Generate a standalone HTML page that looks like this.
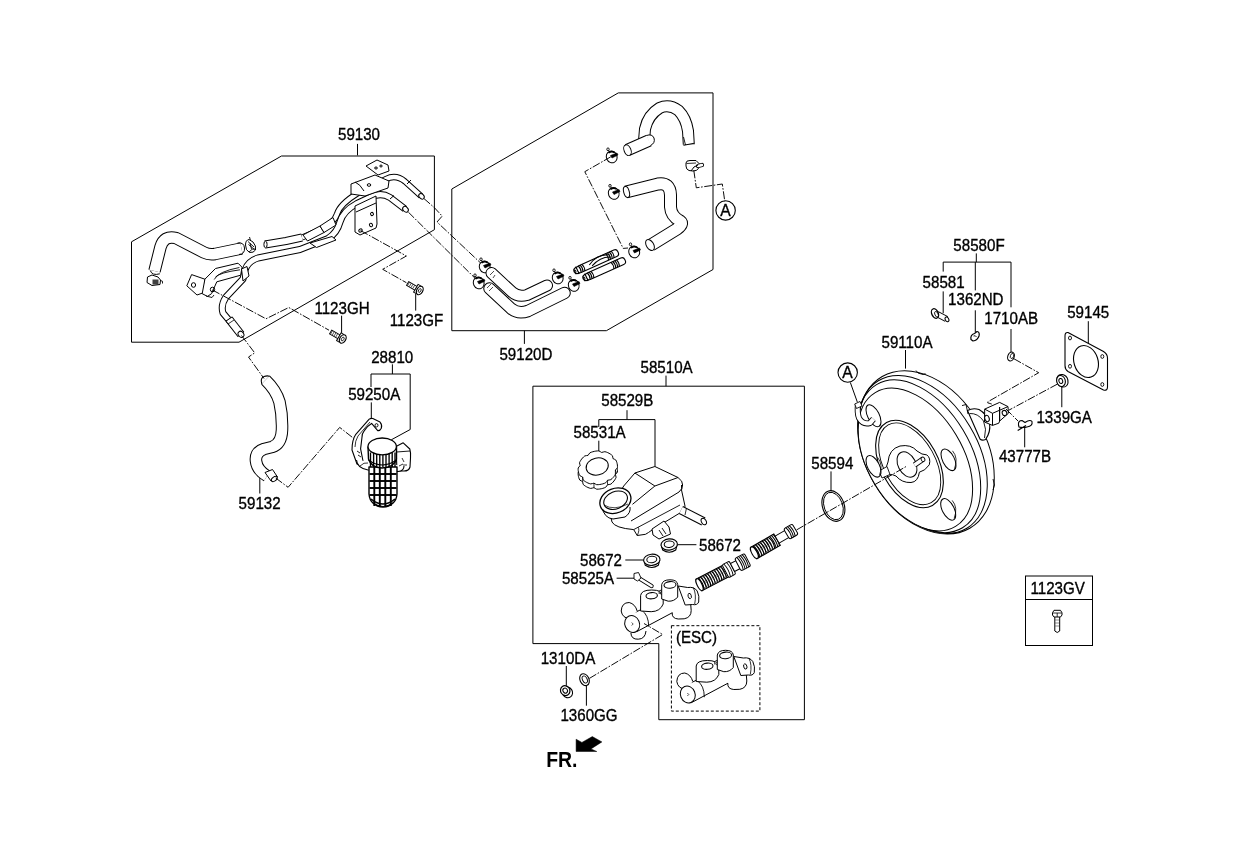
<!DOCTYPE html><html><head><meta charset="utf-8"><style>html,body{margin:0;padding:0;background:#fff;}svg{display:block;will-change:transform}</style></head><body>
<svg width="1240" height="848" viewBox="0 0 1240 848" font-family="'Liberation Sans', sans-serif" fill="#000"><g>
<rect x="0" y="0" width="1240" height="848" fill="#fff"/>
<path d="M131.5,241.8 L281.5,156 L434.4,156 L434.4,229.7 L239,342.2 L131.5,342.2Z" fill="none" stroke="#000" stroke-width="1.0" stroke-linejoin="round" />
<path d="M451.8,189 L618.3,92.9 L713,92.9 L713,269.5 L606.4,330.7 L451.8,330.7Z" fill="none" stroke="#000" stroke-width="1.0" stroke-linejoin="round" />
<path d="M532.9,386.2 L804.4,386.2 L804.4,719.7 L658.8,719.7 L658.8,643.6 L532.9,643.6Z" fill="none" stroke="#000" stroke-width="1.0" stroke-linejoin="round" />
<rect x="671.4" y="625.7" width="88.5" height="85.4" fill="none" stroke="#000" stroke-width="1" stroke-dasharray="3,2"/>
<rect x="1025.5" y="576" width="67" height="69.5" fill="none" stroke="#000" stroke-width="1"/>
<path d="M1025.5,599.5 L1092.5,599.5" fill="none" stroke="#000" stroke-width="1.0" />
<path d="M357.5,143.9 L357.5,155.4" fill="none" stroke="#000" stroke-width="1.0" />
<path d="M341.6,315.7 L341.6,333.3" fill="none" stroke="#000" stroke-width="1.0" />
<path d="M415.7,294 L415.7,310.6" fill="none" stroke="#000" stroke-width="1.0" />
<path d="M392.4,364.3 L392.4,374" fill="none" stroke="#000" stroke-width="1.0" />
<path d="M371,387 L371,374 L410.2,374 L410.2,429.5 L391.3,439.8" fill="none" stroke="#000" stroke-width="1.0" />
<path d="M371.3,402.4 L371.3,419" fill="none" stroke="#000" stroke-width="1.0" />
<path d="M259.8,473.9 L259.8,493.5" fill="none" stroke="#000" stroke-width="1.0" />
<path d="M524.4,330.7 L524.4,343.9" fill="none" stroke="#000" stroke-width="1.0" />
<path d="M666,375.6 L666,386.2" fill="none" stroke="#000" stroke-width="1.0" />
<path d="M627,410.2 L627,419.6" fill="none" stroke="#000" stroke-width="1.0" />
<path d="M598.8,427 L598.8,419.6 L655,419.6 L655,466.7" fill="none" stroke="#000" stroke-width="1.0" />
<path d="M598.8,440.7 L598.8,451.8" fill="none" stroke="#000" stroke-width="1.0" />
<path d="M677.3,544.7 L696.4,544.7" fill="none" stroke="#000" stroke-width="1.0" />
<path d="M625.3,560 L643.9,560" fill="none" stroke="#000" stroke-width="1.0" />
<path d="M616.6,578.2 L634,578.2" fill="none" stroke="#000" stroke-width="1.0" />
<path d="M566.3,666 L566.3,685.9" fill="none" stroke="#000" stroke-width="1.0" />
<path d="M586.4,683.4 L586.4,705.7" fill="none" stroke="#000" stroke-width="1.0" />
<path d="M976.3,253.4 L976.3,262.1" fill="none" stroke="#000" stroke-width="1.0" />
<path d="M943.2,271.6 L943.2,262.1 L1011,262.1 L1011,307.3" fill="none" stroke="#000" stroke-width="1.0" />
<path d="M975.3,262.1 L975.3,290.4" fill="none" stroke="#000" stroke-width="1.0" />
<path d="M943.2,291.4 L943.2,313.2" fill="none" stroke="#000" stroke-width="1.0" />
<path d="M975.3,310.3 L975.3,332" fill="none" stroke="#000" stroke-width="1.0" />
<path d="M1011,329 L1011,352.9" fill="none" stroke="#000" stroke-width="1.0" />
<path d="M1088.3,321.2 L1088.3,343" fill="none" stroke="#000" stroke-width="1.0" />
<path d="M905.5,350 L905.5,368.6" fill="none" stroke="#000" stroke-width="1.0" />
<path d="M831,471.4 L831,491.2" fill="none" stroke="#000" stroke-width="1.0" />
<path d="M1061.8,385.6 L1061.8,407.2" fill="none" stroke="#000" stroke-width="1.0" />
<path d="M1024.7,426.5 L1024.7,447.3" fill="none" stroke="#000" stroke-width="1.0" />
<path d="M850.3,382.4 L857.3,402" fill="none" stroke="#000" stroke-width="1.0" />
<text transform="translate(359,140) scale(0.89,1)" x="0" y="0" font-size="17" text-anchor="middle" stroke="#000" stroke-width="0.35" >59130</text>
<text transform="translate(342,314) scale(0.89,1)" x="0" y="0" font-size="17" text-anchor="middle" stroke="#000" stroke-width="0.35" >1123GH</text>
<text transform="translate(416.5,325.5) scale(0.89,1)" x="0" y="0" font-size="17" text-anchor="middle" stroke="#000" stroke-width="0.35" >1123GF</text>
<text transform="translate(392.2,362.8) scale(0.89,1)" x="0" y="0" font-size="17" text-anchor="middle" stroke="#000" stroke-width="0.35" >28810</text>
<text transform="translate(374.2,400) scale(0.89,1)" x="0" y="0" font-size="17" text-anchor="middle" stroke="#000" stroke-width="0.35" >59250A</text>
<text transform="translate(259.6,508.5) scale(0.89,1)" x="0" y="0" font-size="17" text-anchor="middle" stroke="#000" stroke-width="0.35" >59132</text>
<text transform="translate(525.9,359.5) scale(0.89,1)" x="0" y="0" font-size="17" text-anchor="middle" stroke="#000" stroke-width="0.35" >59120D</text>
<text transform="translate(666.6,372.8) scale(0.89,1)" x="0" y="0" font-size="17" text-anchor="middle" stroke="#000" stroke-width="0.35" >58510A</text>
<text transform="translate(627.3,406.3) scale(0.89,1)" x="0" y="0" font-size="17" text-anchor="middle" stroke="#000" stroke-width="0.35" >58529B</text>
<text transform="translate(599.6,438.2) scale(0.89,1)" x="0" y="0" font-size="17" text-anchor="middle" stroke="#000" stroke-width="0.35" >58531A</text>
<text transform="translate(720,550.5) scale(0.89,1)" x="0" y="0" font-size="17" text-anchor="middle" stroke="#000" stroke-width="0.35" >58672</text>
<text transform="translate(601,565.8) scale(0.89,1)" x="0" y="0" font-size="17" text-anchor="middle" stroke="#000" stroke-width="0.35" >58672</text>
<text transform="translate(588,584.4) scale(0.89,1)" x="0" y="0" font-size="17" text-anchor="middle" stroke="#000" stroke-width="0.35" >58525A</text>
<text transform="translate(568,664.1) scale(0.89,1)" x="0" y="0" font-size="17" text-anchor="middle" stroke="#000" stroke-width="0.35" >1310DA</text>
<text transform="translate(589,721.4) scale(0.89,1)" x="0" y="0" font-size="17" text-anchor="middle" stroke="#000" stroke-width="0.35" >1360GG</text>
<text transform="translate(979,251.2) scale(0.89,1)" x="0" y="0" font-size="17" text-anchor="middle" stroke="#000" stroke-width="0.35" >58580F</text>
<text transform="translate(943.6,287.5) scale(0.89,1)" x="0" y="0" font-size="17" text-anchor="middle" stroke="#000" stroke-width="0.35" >58581</text>
<text transform="translate(975.8,305.3) scale(0.89,1)" x="0" y="0" font-size="17" text-anchor="middle" stroke="#000" stroke-width="0.35" >1362ND</text>
<text transform="translate(1011.2,323.5) scale(0.89,1)" x="0" y="0" font-size="17" text-anchor="middle" stroke="#000" stroke-width="0.35" >1710AB</text>
<text transform="translate(1088.2,317.6) scale(0.89,1)" x="0" y="0" font-size="17" text-anchor="middle" stroke="#000" stroke-width="0.35" >59145</text>
<text transform="translate(907,347.7) scale(0.89,1)" x="0" y="0" font-size="17" text-anchor="middle" stroke="#000" stroke-width="0.35" >59110A</text>
<text transform="translate(832.3,468.9) scale(0.89,1)" x="0" y="0" font-size="17" text-anchor="middle" stroke="#000" stroke-width="0.35" >58594</text>
<text transform="translate(1064.2,423.2) scale(0.89,1)" x="0" y="0" font-size="17" text-anchor="middle" stroke="#000" stroke-width="0.35" >1339GA</text>
<text transform="translate(1025,461.9) scale(0.89,1)" x="0" y="0" font-size="17" text-anchor="middle" stroke="#000" stroke-width="0.35" >43777B</text>
<text transform="translate(1057.7,594) scale(0.89,1)" x="0" y="0" font-size="17" text-anchor="middle" stroke="#000" stroke-width="0.35" >1123GV</text>
<text transform="translate(696.5,643) scale(0.89,1)" x="0" y="0" font-size="17" text-anchor="middle" stroke="#000" stroke-width="0.35" >(ESC)</text>
<text x="546.2" y="766.6" font-size="22.8" font-weight="bold" textLength="31.3" lengthAdjust="spacingAndGlyphs">FR.</text>
<path d="M576.1,739.2 L581.9,742.4 L592.3,736.6 L601.9,741.9 L591,748.9 L596.8,751.5 L576.1,751.5Z" fill="#000" stroke="#000" stroke-width="0.5" stroke-linejoin="round" />
<circle cx="725.6" cy="210.4" r="9.7" fill="#fff" stroke="#000" stroke-width="1.1"/>
<text transform="translate(725.4,216.0) scale(0.95,1)" x="0" y="0" font-size="16.5" text-anchor="middle" stroke="#000" stroke-width="0.35" >A</text>
<circle cx="847.7" cy="372.6" r="9.7" fill="#fff" stroke="#000" stroke-width="1.1"/>
<text transform="translate(847.5,378.20000000000005) scale(0.95,1)" x="0" y="0" font-size="16.5" text-anchor="middle" stroke="#000" stroke-width="0.35" >A</text>
<path d="M154.5,271 L160.5,247 Q164,235 176,238 L204,252.5 Q209,255 215,254 L241.5,248.5" fill="none" stroke="#000" stroke-width="12.5" stroke-linecap="butt" stroke-linejoin="round"/>
<path d="M154.5,271 L160.5,247 Q164,235 176,238 L204,252.5 Q209,255 215,254 L241.5,248.5" fill="none" stroke="#fff" stroke-width="10.5" stroke-linecap="butt" stroke-linejoin="round"/>
<path d="M237.5,243 Q244,242 244.5,248 Q245,254 239,254.5" fill="none" stroke="#000" stroke-width="1.0" stroke-linejoin="round" />
<path d="M150.3,270.5 Q152,276 159.8,273.8" fill="none" stroke="#000" stroke-width="1" stroke-linejoin="round" />
<path d="M147.5,277 L152,275 L158,277 L160.5,280 L160,284.5 L152,285.5 L147,282.5 Z" fill="#fff" stroke="#000" stroke-width="1" stroke-linejoin="round" />
<rect x="152.5" y="279.5" width="6" height="5" fill="#000" opacity="0.75"/>
<path d="M160.5,280.5 Q163.5,280.5 162.5,283.5" fill="none" stroke="#000" stroke-width="0.9" stroke-linejoin="round" />
<path d="M245.5,245 Q245.5,240 249,239.5 L253,242 Q256.5,246 255.5,250 Q253.5,253 249.5,252.5 Q245.5,250.5 245.5,245 Z" fill="#fff" stroke="#000" stroke-width="1" stroke-linejoin="round" />
<path d="M248,241.5 L254,247 M248.5,244.5 L254.5,249.5 M249.5,237 L250.5,240.5 M250,243 L251.5,249" fill="none" stroke="#000" stroke-width="0.9" stroke-linejoin="round" />
<path d="M249,252 Q252,248 255.5,249" fill="none" stroke="#000" stroke-width="0.9" stroke-linejoin="round" />
<path d="M265,244.5 L286,241 L302,237.5" fill="none" stroke="#000" stroke-width="8.0" stroke-linecap="butt" stroke-linejoin="round"/>
<path d="M265,244.5 L286,241 L302,237.5" fill="none" stroke="#fff" stroke-width="6" stroke-linecap="butt" stroke-linejoin="round"/>
<ellipse cx="265.5" cy="244.5" rx="1.6" ry="3.3" transform="rotate(0 265.5 244.5)" fill="#fff" stroke="#000" stroke-width="1.0" />
<path d="M405,209 L390,197.5 Q381,192 371,197 L357,203.5 Q343,211 340,222 Q337,233 328,238.5 L300,249.5 L258,258 Q248,261 245,270 L243,279 L226,297 Q220.5,305 223,313 L241,334.5" fill="none" stroke="#000" stroke-width="7.0" stroke-linecap="butt" stroke-linejoin="round"/>
<path d="M405,209 L390,197.5 Q381,192 371,197 L357,203.5 Q343,211 340,222 Q337,233 328,238.5 L300,249.5 L258,258 Q248,261 245,270 L243,279 L226,297 Q220.5,305 223,313 L241,334.5" fill="none" stroke="#fff" stroke-width="5" stroke-linecap="butt" stroke-linejoin="round"/>
<path d="M421,196 L405,181.5 Q396,174 386,179 L358,193 Q340,204 337,214 Q334,223 322,229 L302,237.5" fill="none" stroke="#000" stroke-width="6.2" stroke-linecap="butt" stroke-linejoin="round"/>
<path d="M421,196 L405,181.5 Q396,174 386,179 L358,193 Q340,204 337,214 Q334,223 322,229 L302,237.5" fill="none" stroke="#fff" stroke-width="4.2" stroke-linecap="butt" stroke-linejoin="round"/>
<ellipse cx="421.5" cy="196.3" rx="2.3" ry="3.1" transform="rotate(-45 421.5 196.3)" fill="#fff" stroke="#000" stroke-width="1.0" />
<ellipse cx="405.5" cy="209.3" rx="2.4" ry="3.2" transform="rotate(-45 405.5 209.3)" fill="#fff" stroke="#000" stroke-width="1.0" />
<path d="M407,184 L411,180 M390,199 L394,195.5" fill="none" stroke="#000" stroke-width="1.0" stroke-linejoin="round" />
<path d="M303,235 L320,226 L324,232.5 L307.5,241Z" fill="#fff" stroke="#000" stroke-width="1.0" stroke-linejoin="round" />
<path d="M320,226 L333,217.5 L336,225 L324,232.5Z" fill="#fff" stroke="#000" stroke-width="1.0" stroke-linejoin="round" />
<path d="M310,243 L332,236.5 L336,240 L316.5,247.5Z" fill="#fff" stroke="#000" stroke-width="1.0" stroke-linejoin="round" />
<path d="M366,166 L377,160 L388,165 L389,171 L378,175Z" fill="#fff" stroke="#000" stroke-width="1.0" stroke-linejoin="round" />
<ellipse cx="376" cy="168" rx="1.4" ry="1" transform="rotate(0 376 168)" fill="none" stroke="#000" stroke-width="1.0" />
<ellipse cx="381" cy="166" rx="1.2" ry="1" transform="rotate(0 381 166)" fill="none" stroke="#000" stroke-width="1.0" />
<path d="M351,184 L375,175 L389,181 L388,188 L365,196 L351,194Z" fill="#fff" stroke="#000" stroke-width="1.0" stroke-linejoin="round" />
<ellipse cx="369" cy="185" rx="1.8" ry="1.3" transform="rotate(0 369 185)" fill="none" stroke="#000" stroke-width="1.0" />
<path d="M355,182 Q360,184 364,191" fill="none" stroke="#000" stroke-width="1.0" stroke-linejoin="round" />
<path d="M355,206 L376,196 L377,224 L376,228 L360,235 L355,232Z" fill="#fff" stroke="#000" stroke-width="1.0" stroke-linejoin="round" />
<path d="M356,212 L376,203" fill="none" stroke="#000" stroke-width="1.0" />
<ellipse cx="360.5" cy="230.5" rx="1.8" ry="1.5" transform="rotate(-30 360.5 230.5)" fill="none" stroke="#000" stroke-width="1.0" />
<ellipse cx="371" cy="225" rx="1.5" ry="1.8" transform="rotate(-30 371 225)" fill="none" stroke="#000" stroke-width="1.0" />
<ellipse cx="372" cy="214" rx="1.4" ry="1.6" transform="rotate(-30 372 214)" fill="none" stroke="#000" stroke-width="1.0" />
<path d="M186.8,285.8 L191.6,274.6 L204.9,279.2 L204.4,292.4 L197,295Z" fill="#fff" stroke="#000" stroke-width="1.0" stroke-linejoin="round" />
<ellipse cx="193.5" cy="285" rx="2.1" ry="2.3" transform="rotate(0 193.5 285)" fill="none" stroke="#000" stroke-width="1.0" />
<path d="M204.9,279.2 L215.5,268.5 L238,263.2 L242,267.2 L240.7,275.2 L216.8,281.8 L211.5,293.7 L207.5,296.4 L202.2,293.7Z" fill="#fff" stroke="#000" stroke-width="1.0" stroke-linejoin="round" />
<path d="M214.2,279.5 Q218,271.5 239.4,267.5" fill="none" stroke="#000" stroke-width="0.9" stroke-linejoin="round" />
<path d="M215.5,277 Q220,272.5 240,269.8" fill="none" stroke="#000" stroke-width="0.9" stroke-linejoin="round" />
<ellipse cx="212.5" cy="289.5" rx="2.2" ry="2.3" transform="rotate(0 212.5 289.5)" fill="none" stroke="#000" stroke-width="1.0" />
<path d="M206,296 L212,297.5 L214,295" fill="none" stroke="#000" stroke-width="0.9" stroke-linejoin="round" />
<path d="M241.5,269 L247,266.5 L249,276 L243,281Z" fill="#fff" stroke="#000" stroke-width="1.0" stroke-linejoin="round" />
<path d="M229,319 L241,334.5" fill="none" stroke="#000" stroke-width="8.4" stroke-linecap="butt" stroke-linejoin="round"/>
<path d="M229,319 L241,334.5" fill="none" stroke="#fff" stroke-width="6.4" stroke-linecap="butt" stroke-linejoin="round"/>
<path d="M226,321 L232,317" fill="none" stroke="#000" stroke-width="1" stroke-linejoin="round" />
<path d="M228,324 L234,320" fill="none" stroke="#000" stroke-width="0.8" stroke-linejoin="round" />
<ellipse cx="241" cy="334.3" rx="2.6" ry="3.3" transform="rotate(-40 241 334.3)" fill="#fff" stroke="#000" stroke-width="1.0" />
<g transform="translate(341,338) rotate(30)"><rect x="-12" y="-2.2" width="10" height="4.4" fill="#fff" stroke="#000" stroke-width="0.9"/><path d="M-11,-2 L-11,2 M-9,-2 L-9,2 M-7,-2 L-7,2 M-5,-2 L-5,2" stroke="#000" stroke-width="0.6"/><rect x="-2.5" y="-4.5" width="3" height="9" fill="#fff" stroke="#000" stroke-width="1"/><ellipse cx="2" cy="0" rx="3" ry="4.5" fill="#fff" stroke="#000" stroke-width="1.2"/><ellipse cx="2" cy="0" rx="1.2" ry="2" fill="none" stroke="#000" stroke-width="0.8"/></g>
<g transform="translate(418,289.5) rotate(30)"><rect x="-12" y="-2.2" width="10" height="4.4" fill="#fff" stroke="#000" stroke-width="0.9"/><path d="M-11,-2 L-11,2 M-9,-2 L-9,2 M-7,-2 L-7,2 M-5,-2 L-5,2" stroke="#000" stroke-width="0.6"/><rect x="-2.5" y="-4.5" width="3" height="9" fill="#fff" stroke="#000" stroke-width="1"/><ellipse cx="2" cy="0" rx="3" ry="4.5" fill="#fff" stroke="#000" stroke-width="1.2"/><ellipse cx="2" cy="0" rx="1.2" ry="2" fill="none" stroke="#000" stroke-width="0.8"/></g>
<path d="M265.5,380 Q276,390 279.5,402 Q282.5,415 282,430 Q281.5,444 272,447 L264,449 Q255,452 256,461 Q257,470 267,476" fill="none" stroke="#000" stroke-width="12.5" stroke-linecap="butt" stroke-linejoin="round"/>
<path d="M265.5,380 Q276,390 279.5,402 Q282.5,415 282,430 Q281.5,444 272,447 L264,449 Q255,452 256,461 Q257,470 267,476" fill="none" stroke="#fff" stroke-width="10.5" stroke-linecap="butt" stroke-linejoin="round"/>
<path d="M261.8,384 Q260,378 264,376.5 Q267,375.5 269.5,376.2" fill="none" stroke="#000" stroke-width="1.1" stroke-linejoin="round" />
<path d="M265,472.5 L271,481 L277.5,477 L272.5,469.5 Z" fill="#fff" stroke="#000" stroke-width="1" stroke-linejoin="round" />
<ellipse cx="274.3" cy="479" rx="3.3" ry="2" transform="rotate(-35 274.3 479)" fill="#fff" stroke="#000" stroke-width="1" />
<path d="M352,450 Q352,440 355.8,434.3 L369.2,419.1 Q371,418 372.8,418.5 L380,422.1 Q382.5,425 381.3,428.2 Q380,431 377.7,430.6 L371.6,423.4 Q367,426 364.3,430.6 Q361.5,434 361.9,438 L360.6,448.9 L364,466 L357,464 Z" fill="#fff" stroke="#000" stroke-width="1.1" stroke-linejoin="round" />
<path d="M355,447 Q355,441 358,436 L370,422" fill="none" stroke="#000" stroke-width="0.8" stroke-linejoin="round" />
<ellipse cx="376.5" cy="425.3" rx="1.5" ry="1.7" transform="rotate(0 376.5 425.3)" fill="none" stroke="#000" stroke-width="0.9" />
<path d="M357,451 L360,453 M358,455 L361,457" fill="none" stroke="#000" stroke-width="0.9" stroke-linejoin="round" />
<path d="M396,446.4 L403.2,442.8 L409.8,449 Q411,453 410.5,458 L410,467 Q409,471 404,471 L397,471 Z" fill="#fff" stroke="#000" stroke-width="1.1" stroke-linejoin="round" />
<path d="M396.5,452 L410,451" fill="none" stroke="#000" stroke-width="0.9" />
<path d="M402,458 L404,462 M403,465 L407,465" fill="none" stroke="#000" stroke-width="0.8" stroke-linejoin="round" />
<path d="M356.5,460 Q357,468 368,470 L398,471.5 Q404,471 404,466" fill="#fff" stroke="#000" stroke-width="1.1" stroke-linejoin="round" />
<path d="M360,466 Q364,462 368,463 M399,466 L403,464" fill="none" stroke="#000" stroke-width="0.8" stroke-linejoin="round" />
<path d="M369,467 L369,494 Q369.5,500 373,503 Q377,507 383,507 Q389,507 393,503 Q396.5,500 397,494 L397,467 Z" fill="#fff" stroke="#000" stroke-width="1.4" stroke-linejoin="round" />
<path d="M369.5,474 L396.5,474" fill="none" stroke="#000" stroke-width="1.9" />
<path d="M369.5,481 L396.5,481" fill="none" stroke="#000" stroke-width="1.9" />
<path d="M369.5,488 L396.5,488" fill="none" stroke="#000" stroke-width="1.9" />
<path d="M369.5,495 L396.5,495" fill="none" stroke="#000" stroke-width="1.9" />
<path d="M374.3,467 L374.3,506" fill="none" stroke="#000" stroke-width="1.9" />
<path d="M379.8,467 L379.8,506" fill="none" stroke="#000" stroke-width="1.9" />
<path d="M385.3,467 L385.3,506" fill="none" stroke="#000" stroke-width="1.9" />
<path d="M390.8,467 L390.8,506" fill="none" stroke="#000" stroke-width="1.9" />
<path d="M371,499 Q383,509 395,499" fill="none" stroke="#000" stroke-width="1.6" stroke-linejoin="round" />
<path d="M373,503 Q383,510 393,503" fill="none" stroke="#000" stroke-width="1.2" stroke-linejoin="round" />
<path d="M368,446.5 L368.5,459 Q371,467.5 382,468 Q394,467.5 396.5,459 L396.5,446.5" fill="#fff" stroke="#000" stroke-width="1.4" stroke-linejoin="round" />
<path d="M370.5,452.5 L370.5,467" fill="none" stroke="#000" stroke-width="1.35" />
<path d="M373.6,452.5 L373.6,467" fill="none" stroke="#000" stroke-width="1.35" />
<path d="M376.7,452.5 L376.7,467" fill="none" stroke="#000" stroke-width="1.35" />
<path d="M379.8,452.5 L379.8,467" fill="none" stroke="#000" stroke-width="1.35" />
<path d="M382.9,452.5 L382.9,467" fill="none" stroke="#000" stroke-width="1.35" />
<path d="M386,452.5 L386,467" fill="none" stroke="#000" stroke-width="1.35" />
<path d="M389.1,452.5 L389.1,467" fill="none" stroke="#000" stroke-width="1.35" />
<path d="M392.2,452.5 L392.2,467" fill="none" stroke="#000" stroke-width="1.35" />
<path d="M395,452.5 L395,467" fill="none" stroke="#000" stroke-width="1.35" />
<path d="M368.5,460 Q382,470 396.5,460" fill="none" stroke="#000" stroke-width="1.2" stroke-linejoin="round" />
<ellipse cx="382.2" cy="446.4" rx="14.2" ry="8.4" transform="rotate(0 382.2 446.4)" fill="#fff" stroke="#000" stroke-width="1.3" />
<path d="M644,141 L645,129 Q648,115 659.5,108 Q669,103.5 678.5,110.5 Q686,118 688,131 L688.8,144.5" fill="none" stroke="#000" stroke-width="12.0" stroke-linecap="butt" stroke-linejoin="round"/>
<path d="M644,141 L645,129 Q648,115 659.5,108 Q669,103.5 678.5,110.5 Q686,118 688,131 L688.8,144.5" fill="none" stroke="#fff" stroke-width="10" stroke-linecap="butt" stroke-linejoin="round"/>
<path d="M683.5,145.3 L694,143.3" fill="none" stroke="#000" stroke-width="1" />
<path d="M683.5,137 L685.5,145" fill="none" stroke="#000" stroke-width="0.9" stroke-linejoin="round" />
<path d="M627.5,150 L649,140.5" fill="none" stroke="#000" stroke-width="12.5" stroke-linecap="butt" stroke-linejoin="round"/>
<path d="M627.5,150 L649,140.5" fill="none" stroke="#fff" stroke-width="10.5" stroke-linecap="butt" stroke-linejoin="round"/>
<path d="M646.5,135.5 Q652,133.5 654,138 Q655.5,143 650.5,145.5" fill="#fff" stroke="#000" stroke-width="1.0" stroke-linejoin="round" />
<ellipse cx="627.5" cy="150.2" rx="3.4" ry="5.6" transform="rotate(-22 627.5 150.2)" fill="#fff" stroke="#000" stroke-width="1.0" />
<path d="M626,192 L658,184 Q670,182 670.5,195 L670.5,207 Q671,216 680,221 Q684,224 677,229 L651,245" fill="none" stroke="#000" stroke-width="13.0" stroke-linecap="butt" stroke-linejoin="round"/>
<path d="M626,192 L658,184 Q670,182 670.5,195 L670.5,207 Q671,216 680,221 Q684,224 677,229 L651,245" fill="none" stroke="#fff" stroke-width="11" stroke-linecap="butt" stroke-linejoin="round"/>
<ellipse cx="626.5" cy="192" rx="2.8" ry="5.6" transform="rotate(-15 626.5 192)" fill="#fff" stroke="#000" stroke-width="1.0" />
<ellipse cx="650" cy="245" rx="3.6" ry="6" transform="rotate(-32 650 245)" fill="#fff" stroke="#000" stroke-width="1.0" />
<g transform="translate(611.5,156.5) scale(1.0)"><ellipse cx="0" cy="0.5" rx="5.3" ry="6" transform="rotate(-25)" fill="#fff" stroke="#000" stroke-width="1"/><path d="M-3,-3.5 Q0,-6 3,-4" fill="none" stroke="#000" stroke-width="1.6"/><path d="M-1,-1 L5.5,-3.5 L6.5,-1.5 L0.5,1.5 Z" fill="#000" stroke="#000" stroke-width="0.6"/><ellipse cx="-3.5" cy="-7.2" rx="1.2" ry="1.4" fill="none" stroke="#000" stroke-width="0.9"/><path d="M-2.5,-5.8 L-1.5,-4" stroke="#000" stroke-width="0.9"/></g>
<g transform="translate(613.5,193) scale(1.0)"><ellipse cx="0" cy="0.5" rx="5.3" ry="6" transform="rotate(-25)" fill="#fff" stroke="#000" stroke-width="1"/><path d="M-3,-3.5 Q0,-6 3,-4" fill="none" stroke="#000" stroke-width="1.6"/><path d="M-1,-1 L5.5,-3.5 L6.5,-1.5 L0.5,1.5 Z" fill="#000" stroke="#000" stroke-width="0.6"/><ellipse cx="-3.5" cy="-7.2" rx="1.2" ry="1.4" fill="none" stroke="#000" stroke-width="0.9"/><path d="M-2.5,-5.8 L-1.5,-4" stroke="#000" stroke-width="0.9"/></g>
<g transform="translate(634,251.5) scale(1.0)"><ellipse cx="0" cy="0.5" rx="5.3" ry="6" transform="rotate(-25)" fill="#fff" stroke="#000" stroke-width="1"/><path d="M-3,-3.5 Q0,-6 3,-4" fill="none" stroke="#000" stroke-width="1.6"/><path d="M-1,-1 L5.5,-3.5 L6.5,-1.5 L0.5,1.5 Z" fill="#000" stroke="#000" stroke-width="0.6"/><ellipse cx="-3.5" cy="-7.2" rx="1.2" ry="1.4" fill="none" stroke="#000" stroke-width="0.9"/><path d="M-2.5,-5.8 L-1.5,-4" stroke="#000" stroke-width="0.9"/></g>
<g transform="translate(557.5,277.5) scale(1.0)"><ellipse cx="0" cy="0.5" rx="5.3" ry="6" transform="rotate(-25)" fill="#fff" stroke="#000" stroke-width="1"/><path d="M-3,-3.5 Q0,-6 3,-4" fill="none" stroke="#000" stroke-width="1.6"/><path d="M-1,-1 L5.5,-3.5 L6.5,-1.5 L0.5,1.5 Z" fill="#000" stroke="#000" stroke-width="0.6"/><ellipse cx="-3.5" cy="-7.2" rx="1.2" ry="1.4" fill="none" stroke="#000" stroke-width="0.9"/><path d="M-2.5,-5.8 L-1.5,-4" stroke="#000" stroke-width="0.9"/></g>
<g transform="translate(573.5,285) scale(1.0)"><ellipse cx="0" cy="0.5" rx="5.3" ry="6" transform="rotate(-25)" fill="#fff" stroke="#000" stroke-width="1"/><path d="M-3,-3.5 Q0,-6 3,-4" fill="none" stroke="#000" stroke-width="1.6"/><path d="M-1,-1 L5.5,-3.5 L6.5,-1.5 L0.5,1.5 Z" fill="#000" stroke="#000" stroke-width="0.6"/><ellipse cx="-3.5" cy="-7.2" rx="1.2" ry="1.4" fill="none" stroke="#000" stroke-width="0.9"/><path d="M-2.5,-5.8 L-1.5,-4" stroke="#000" stroke-width="0.9"/></g>
<g transform="translate(484.5,266.5) scale(1.0)"><ellipse cx="0" cy="0.5" rx="5.3" ry="6" transform="rotate(-25)" fill="#fff" stroke="#000" stroke-width="1"/><path d="M-3,-3.5 Q0,-6 3,-4" fill="none" stroke="#000" stroke-width="1.6"/><path d="M-1,-1 L5.5,-3.5 L6.5,-1.5 L0.5,1.5 Z" fill="#000" stroke="#000" stroke-width="0.6"/><ellipse cx="-3.5" cy="-7.2" rx="1.2" ry="1.4" fill="none" stroke="#000" stroke-width="0.9"/><path d="M-2.5,-5.8 L-1.5,-4" stroke="#000" stroke-width="0.9"/></g>
<g transform="translate(478.5,282.5) scale(1.0)"><ellipse cx="0" cy="0.5" rx="5.3" ry="6" transform="rotate(-25)" fill="#fff" stroke="#000" stroke-width="1"/><path d="M-3,-3.5 Q0,-6 3,-4" fill="none" stroke="#000" stroke-width="1.6"/><path d="M-1,-1 L5.5,-3.5 L6.5,-1.5 L0.5,1.5 Z" fill="#000" stroke="#000" stroke-width="0.6"/><ellipse cx="-3.5" cy="-7.2" rx="1.2" ry="1.4" fill="none" stroke="#000" stroke-width="0.9"/><path d="M-2.5,-5.8 L-1.5,-4" stroke="#000" stroke-width="0.9"/></g>
<path d="M686,163 Q686,160.5 690,160.5 L696,160.5 L699,163.5 L698.5,168.5 Q697,171 693,171 L689,170.5 Q686,169.5 686,166 Z" fill="#fff" stroke="#000" stroke-width="1.0" stroke-linejoin="round" />
<path d="M686.5,163.5 L696,163" fill="none" stroke="#000" stroke-width="0.8" />
<path d="M698,166 L702,165" fill="none" stroke="#000" stroke-width="4.2" stroke-linecap="round" stroke-linejoin="round"/>
<path d="M698,166 L702,165" fill="none" stroke="#fff" stroke-width="2.4" stroke-linecap="round" stroke-linejoin="round"/>
<path d="M691,171 L694,167 L698,165" fill="none" stroke="#000" stroke-width="1" stroke-linejoin="round" />
<g transform="translate(577,270.5) rotate(-24.29)">
<rect x="0" y="-3.6" width="44.98" height="7.2" rx="3" fill="#fff" stroke="#000" stroke-width="1.1"/>
<path d="M13.5,0 Q24.7,-7 36.0,-1 M15.7,2 Q27.0,-3 36.0,1.5" fill="none" stroke="#000" stroke-width="1"/>
<path d="M3,-3.6 Q4.6,0 3,3.6" fill="none" stroke="#000" stroke-width="1.1"/>
<path d="M5,-3.6 Q6.6,0 5,3.6" fill="none" stroke="#000" stroke-width="1.1"/>
<path d="M7,-3.6 Q8.6,0 7,3.6" fill="none" stroke="#000" stroke-width="1.1"/>
<path d="M33,-3.6 Q34.6,0 33,3.6" fill="none" stroke="#000" stroke-width="1.1"/>
<path d="M35,-3.6 Q36.6,0 35,3.6" fill="none" stroke="#000" stroke-width="1.1"/>
<path d="M37,-3.6 Q38.6,0 37,3.6" fill="none" stroke="#000" stroke-width="1.1"/>
<path d="M39,-3.6 Q40.6,0 39,3.6" fill="none" stroke="#000" stroke-width="1.1"/>
<path d="M-2.5,-2.3 L0.5,-3.6 L0.5,3.6 L-2.5,2.3 Z" fill="#fff" stroke="#000" stroke-width="1.1"/>
<ellipse cx="-2.3" cy="0" rx="1" ry="1.6" fill="none" stroke="#000" stroke-width="0.9"/>
</g>
<g transform="translate(586,277.5) rotate(-24.17)">
<rect x="0" y="-3.6" width="42.75" height="7.2" rx="3" fill="#fff" stroke="#000" stroke-width="1.1"/>
<path d="M3,-3.6 Q4.6,0 3,3.6" fill="none" stroke="#000" stroke-width="1.1"/>
<path d="M5,-3.6 Q6.6,0 5,3.6" fill="none" stroke="#000" stroke-width="1.1"/>
<path d="M7,-3.6 Q8.6,0 7,3.6" fill="none" stroke="#000" stroke-width="1.1"/>
<path d="M29,-3.6 Q30.6,0 29,3.6" fill="none" stroke="#000" stroke-width="1.1"/>
<path d="M31,-3.6 Q32.6,0 31,3.6" fill="none" stroke="#000" stroke-width="1.1"/>
<path d="M33,-3.6 Q34.6,0 33,3.6" fill="none" stroke="#000" stroke-width="1.1"/>
<path d="M35,-3.6 Q36.6,0 35,3.6" fill="none" stroke="#000" stroke-width="1.1"/>
<path d="M-2.5,-2.3 L0.5,-3.6 L0.5,3.6 L-2.5,2.3 Z" fill="#fff" stroke="#000" stroke-width="1.1"/>
<ellipse cx="-2.3" cy="0" rx="1" ry="1.6" fill="none" stroke="#000" stroke-width="0.9"/>
</g>
<path d="M491.5,273 L512,292 Q518,297.5 527,295 L547,285.5" fill="none" stroke="#000" stroke-width="12.0" stroke-linecap="round" stroke-linejoin="round"/>
<path d="M491.5,273 L512,292 Q518,297.5 527,295 L547,285.5" fill="none" stroke="#fff" stroke-width="10" stroke-linecap="round" stroke-linejoin="round"/>
<path d="M489.5,288.5 L511,308.5 Q518,314.5 528,311 L564.5,293" fill="none" stroke="#000" stroke-width="12.5" stroke-linecap="round" stroke-linejoin="round"/>
<path d="M489.5,288.5 L511,308.5 Q518,314.5 528,311 L564.5,293" fill="none" stroke="#fff" stroke-width="10.5" stroke-linecap="round" stroke-linejoin="round"/>
<path d="M490,275 L494,271 M493,278 L495,275" fill="none" stroke="#000" stroke-width="0.7" stroke-linejoin="round" />
<path d="M487,288 L491,284 M489,291 L493,287" fill="none" stroke="#000" stroke-width="0.7" stroke-linejoin="round" />
<path d="M617.17,468.18 L617.38,469.49 L617.48,470.8 L617.4,472.13 L616.42,473.41 L615.4,474.57 L615.79,475.92 L616.09,477.36 L615.52,478.63 L614.8,479.84 L613.96,481.01 L613.03,482.12 L612.01,483.17 L610.86,484.13 L609.17,484.5 L607.53,484.75 L606.69,486.01 L605.7,487.28 L604.28,487.89 L602.8,488.36 L601.29,488.73 L599.76,489.01 L598.22,489.17 L596.68,489.2 L595.26,488.44 L593.97,487.63 L592.38,488.07 L590.68,488.42 L589.24,488.01 L587.88,487.47 L586.58,486.83 L585.34,486.1 L584.18,485.29 L583.15,484.37 L582.83,482.93 L582.65,481.53 L581.24,480.89 L579.83,480.12 L579.22,478.94 L578.77,477.69 L578.43,476.42 L578.22,475.11 L578.12,473.8 L578.2,472.47 L579.18,471.19 L580.2,470.03 L579.81,468.68 L579.51,467.24 L580.08,465.97 L580.8,464.76 L581.64,463.59 L582.57,462.48 L583.59,461.43 L584.74,460.47 L586.43,460.1 L588.07,459.85 L588.91,458.59 L589.9,457.32 L591.32,456.71 L592.8,456.24 L594.31,455.87 L595.84,455.59 L597.38,455.43 L598.92,455.4 L600.34,456.16 L601.63,456.97 L603.22,456.53 L604.92,456.18 L606.36,456.59 L607.72,457.13 L609.02,457.77 L610.26,458.5 L611.42,459.31 L612.45,460.23 L612.77,461.67 L612.95,463.07 L614.36,463.71 L615.77,464.48 L616.38,465.66 L616.83,466.91Z" fill="#fff" stroke="#000" stroke-width="1.0" stroke-linejoin="round" />
<path d="M617.17,463.68 L617.38,464.99 L617.48,466.3 L617.4,467.63 L616.42,468.91 L615.4,470.07 L615.79,471.42 L616.09,472.86 L615.52,474.13 L614.8,475.34 L613.96,476.51 L613.03,477.62 L612.01,478.67 L610.86,479.63 L609.17,480.0 L607.53,480.25 L606.69,481.51 L605.7,482.78 L604.28,483.39 L602.8,483.86 L601.29,484.23 L599.76,484.51 L598.22,484.67 L596.68,484.7 L595.26,483.94 L593.97,483.13 L592.38,483.57 L590.68,483.92 L589.24,483.51 L587.88,482.97 L586.58,482.33 L585.34,481.6 L584.18,480.79 L583.15,479.87 L582.83,478.43 L582.65,477.03 L581.24,476.39 L579.83,475.62 L579.22,474.44 L578.77,473.19 L578.43,471.92 L578.22,470.61 L578.12,469.3 L578.2,467.97 L579.18,466.69 L580.2,465.53 L579.81,464.18 L579.51,462.74 L580.08,461.47 L580.8,460.26 L581.64,459.09 L582.57,457.98 L583.59,456.93 L584.74,455.97 L586.43,455.6 L588.07,455.35 L588.91,454.09 L589.9,452.82 L591.32,452.21 L592.8,451.74 L594.31,451.37 L595.84,451.09 L597.38,450.93 L598.92,450.9 L600.34,451.66 L601.63,452.47 L603.22,452.03 L604.92,451.68 L606.36,452.09 L607.72,452.63 L609.02,453.27 L610.26,454.0 L611.42,454.81 L612.45,455.73 L612.77,457.17 L612.95,458.57 L614.36,459.21 L615.77,459.98 L616.38,461.16 L616.83,462.41Z" fill="#fff" stroke="#000" stroke-width="1.0" stroke-linejoin="round" />
<path d="M615.4,470.07 L615.4,474.57" fill="none" stroke="#000" stroke-width="0.8" />
<path d="M607.53,480.25 L607.53,484.75" fill="none" stroke="#000" stroke-width="0.8" />
<path d="M593.97,483.13 L593.97,487.63" fill="none" stroke="#000" stroke-width="0.8" />
<path d="M582.65,477.03 L582.65,481.53" fill="none" stroke="#000" stroke-width="0.8" />
<ellipse cx="597.2" cy="466.5" rx="11.2" ry="8.5" transform="rotate(-12 597.2 466.5)" fill="none" stroke="#000" stroke-width="1.0" />
<path d="M634.9,473 L654.9,466.5 L678,477.5 Q683,481 682.6,485 L681.5,490 L685,506 Q685,511 679.7,513.1 L652.6,529.6 Q648,533 645.5,534.3 L637.2,535.5 L633.7,529.6 Q615,528 612,522 Q609,515 611,508 L623.7,486 Z" fill="#fff" stroke="#000" stroke-width="1.0" stroke-linejoin="round" />
<path d="M634.9,473 L654.9,486" fill="none" stroke="#000" stroke-width="1.0" />
<path d="M654.9,486 L678,477.5" fill="none" stroke="#000" stroke-width="1.0" />
<path d="M654.9,486 L632.5,504.3" fill="none" stroke="#000" stroke-width="1.0" />
<path d="M631,521 L679,492 Q683,489 681.5,485" fill="none" stroke="#000" stroke-width="1" stroke-linejoin="round" />
<path d="M633.7,529.6 L680,505" fill="none" stroke="#000" stroke-width="0.9" />
<path d="M637.2,535.5 Q640,530 638,527" fill="none" stroke="#000" stroke-width="0.8" stroke-linejoin="round" />
<path d="M602,507 Q604,518 613,519 L625,517 Q631,513 630,507" fill="#fff" stroke="#000" stroke-width="1.0" stroke-linejoin="round" />
<ellipse cx="615.4" cy="500.7" rx="16" ry="12.2" transform="rotate(-22 615.4 500.7)" fill="#fff" stroke="#000" stroke-width="1.3" />
<ellipse cx="615.6" cy="500.2" rx="12.3" ry="8.6" transform="rotate(-22 615.6 500.2)" fill="#fff" stroke="#000" stroke-width="1.1" />
<path d="M604,505 Q614,511 628,504" fill="none" stroke="#000" stroke-width="0.7" stroke-linejoin="round" />
<path d="M681,510 L703.5,521.5" fill="none" stroke="#000" stroke-width="8.8" stroke-linecap="butt" stroke-linejoin="round"/>
<path d="M681,510 L703.5,521.5" fill="none" stroke="#fff" stroke-width="6.8" stroke-linecap="butt" stroke-linejoin="round"/>
<ellipse cx="703.8" cy="521.5" rx="2.3" ry="3.5" transform="rotate(-30 703.8 521.5)" fill="#fff" stroke="#000" stroke-width="1.0" />
<path d="M686.5,508 L685,515" fill="none" stroke="#000" stroke-width="0.8" />
<path d="M652,529 L664,521 L669,527 L670.5,534 L659,539 L653,535 Z" fill="#fff" stroke="#000" stroke-width="1.0" stroke-linejoin="round" />
<path d="M659,530 L663,536 M662,528 L666,534" fill="none" stroke="#000" stroke-width="0.9" stroke-linejoin="round" />
<path d="M661.2,544.5 L662.7,550.0 Q669.2,554.5 675.7,550.0 L677.2,544.5" fill="#fff" stroke="#000" stroke-width="1.1" stroke-linejoin="round" />
<ellipse cx="669.2" cy="544.5" rx="8.2" ry="5.6" transform="rotate(-5 669.2 544.5)" fill="#fff" stroke="#000" stroke-width="1.1" />
<ellipse cx="669.2" cy="544.2" rx="5" ry="3.2" transform="rotate(-5 669.2 544.2)" fill="#fff" stroke="#000" stroke-width="1" />
<path d="M643.8,559.8 L645.3,565.3 Q651.8,569.8 658.3,565.3 L659.8,559.8" fill="#fff" stroke="#000" stroke-width="1.1" stroke-linejoin="round" />
<ellipse cx="651.8" cy="559.8" rx="8.2" ry="5.6" transform="rotate(-5 651.8 559.8)" fill="#fff" stroke="#000" stroke-width="1.1" />
<ellipse cx="651.8" cy="559.5" rx="5" ry="3.2" transform="rotate(-5 651.8 559.5)" fill="#fff" stroke="#000" stroke-width="1" />
<path d="M637,577 L651.5,586" fill="none" stroke="#000" stroke-width="4.4" stroke-linecap="round" stroke-linejoin="round"/>
<path d="M637,577 L651.5,586" fill="none" stroke="#fff" stroke-width="2.6" stroke-linecap="round" stroke-linejoin="round"/>
<path d="M634,573.5 L638.5,572.5 L641,578 L637.5,581 L634,579 Z" fill="#fff" stroke="#000" stroke-width="0.9" stroke-linejoin="round" />
<g transform="translate(632.2,624) scale(1.0)">
<path d="M-3.7,-7.6 L53.3,-35.6 L60.7,-20.4 L3.7,7.6 Z" fill="#fff" stroke="none"/>
<path d="M40,-11.3 Q39.5,-5.5 46,-5 L52,-5.2 Q59,-6.5 59,-13.5 L58.5,-20" fill="#fff" stroke="#000" stroke-width="1.0" stroke-linejoin="round" />
<path d="M46,-38 L55.5,-36.5 Q62,-37.5 65,-33 Q67.5,-28 66.5,-22 Q65,-18.5 60.5,-19.5 L53,-19 Z" fill="#fff" stroke="#000" stroke-width="1.0" stroke-linejoin="round" />
<path d="M61,-36.5 Q64.5,-30 62.5,-20" fill="none" stroke="#000" stroke-width="0.8" stroke-linejoin="round" />
<ellipse cx="57.5" cy="-28" rx="1.6" ry="2.7" transform="rotate(-15 57.5 -28)" fill="#fff" stroke="#000" stroke-width="0.9" />
<path d="M3.3,8.3 L40.2,-11.3" fill="none" stroke="#000" stroke-width="1.0" />
<path d="M-3.5,-8.5 L9,-14.5" fill="none" stroke="#000" stroke-width="1.0" />
<path d="M28,-23 L42,-30" fill="none" stroke="#000" stroke-width="0.9" />
<path d="M9.3,-14 Q16.5,-9 16.5,2.7" fill="none" stroke="#000" stroke-width="0.9" stroke-linejoin="round" />
<path d="M-2,-5 Q-10,-6 -11,-13 Q-10.5,-21.5 -3,-21.5 Q3,-20 5,-13" fill="#fff" stroke="#000" stroke-width="1.0" stroke-linejoin="round" />
<path d="M-1.3,9 Q-1,15.5 6,15.2 Q13,15 13.8,7" fill="#fff" stroke="#000" stroke-width="1.0" stroke-linejoin="round" />
<path d="M8.4,-13 L8.4,-28.5 Q9,-34 19.5,-34 Q30,-34 31,-28.5 L31,-20 Q28,-12.5 19,-12.3 Z" fill="#fff" stroke="#000" stroke-width="1.0" stroke-linejoin="round" />
<ellipse cx="19.5" cy="-28.3" rx="5.7" ry="3.1" transform="rotate(-5 19.5 -28.3)" fill="#fff" stroke="#000" stroke-width="1.1" />
<path d="M27,-30 L27,-33 Q29.5,-35.5 32.3,-33 L32.3,-29" fill="#fff" stroke="#000" stroke-width="0.9" stroke-linejoin="round" />
<ellipse cx="29.6" cy="-31" rx="1.4" ry="1.6" transform="rotate(0 29.6 -31)" fill="#fff" stroke="#000" stroke-width="0.8" />
<path d="M29.5,-25 L29.5,-39.5 Q30.5,-44.2 37.8,-44.2 Q45,-44.2 45.5,-39.5 L45.5,-27 Q42,-22.5 36,-22.8 Z" fill="#fff" stroke="#000" stroke-width="1.0" stroke-linejoin="round" />
<ellipse cx="37.8" cy="-39.1" rx="6" ry="3.3" transform="rotate(-5 37.8 -39.1)" fill="#fff" stroke="#000" stroke-width="1.1" />
<ellipse cx="0" cy="0" rx="7.3" ry="8.6" transform="rotate(-22 0 0)" fill="#fff" stroke="#000" stroke-width="1.0" />
<path d="M-0.5,-1.5 L1,0 L-0.5,1.5" fill="none" stroke="#000" stroke-width="0.7" stroke-linejoin="round" />
</g>
<g transform="translate(687.8,694.5) scale(1.0)">
<path d="M-3.7,-7.6 L53.3,-35.6 L60.7,-20.4 L3.7,7.6 Z" fill="#fff" stroke="none"/>
<path d="M40,-11.3 Q39.5,-5.5 46,-5 L52,-5.2 Q59,-6.5 59,-13.5 L58.5,-20" fill="#fff" stroke="#000" stroke-width="1.0" stroke-linejoin="round" />
<path d="M46,-38 L55.5,-36.5 Q62,-37.5 65,-33 Q67.5,-28 66.5,-22 Q65,-18.5 60.5,-19.5 L53,-19 Z" fill="#fff" stroke="#000" stroke-width="1.0" stroke-linejoin="round" />
<path d="M61,-36.5 Q64.5,-30 62.5,-20" fill="none" stroke="#000" stroke-width="0.8" stroke-linejoin="round" />
<ellipse cx="57.5" cy="-28" rx="1.6" ry="2.7" transform="rotate(-15 57.5 -28)" fill="#fff" stroke="#000" stroke-width="0.9" />
<path d="M3.3,8.3 L40.2,-11.3" fill="none" stroke="#000" stroke-width="1.0" />
<path d="M-3.5,-8.5 L9,-14.5" fill="none" stroke="#000" stroke-width="1.0" />
<path d="M28,-23 L42,-30" fill="none" stroke="#000" stroke-width="0.9" />
<path d="M9.3,-14 Q16.5,-9 16.5,2.7" fill="none" stroke="#000" stroke-width="0.9" stroke-linejoin="round" />
<path d="M-2,-5 Q-10,-6 -11,-13 Q-10.5,-21.5 -3,-21.5 Q3,-20 5,-13" fill="#fff" stroke="#000" stroke-width="1.0" stroke-linejoin="round" />
<path d="M8.4,-13 L8.4,-28.5 Q9,-34 19.5,-34 Q30,-34 31,-28.5 L31,-20 Q28,-12.5 19,-12.3 Z" fill="#fff" stroke="#000" stroke-width="1.0" stroke-linejoin="round" />
<ellipse cx="19.5" cy="-28.3" rx="5.7" ry="3.1" transform="rotate(-5 19.5 -28.3)" fill="#fff" stroke="#000" stroke-width="1.1" />
<path d="M27,-30 L27,-33 Q29.5,-35.5 32.3,-33 L32.3,-29" fill="#fff" stroke="#000" stroke-width="0.9" stroke-linejoin="round" />
<ellipse cx="29.6" cy="-31" rx="1.4" ry="1.6" transform="rotate(0 29.6 -31)" fill="#fff" stroke="#000" stroke-width="0.8" />
<path d="M29.5,-25 L29.5,-39.5 Q30.5,-44.2 37.8,-44.2 Q45,-44.2 45.5,-39.5 L45.5,-27 Q42,-22.5 36,-22.8 Z" fill="#fff" stroke="#000" stroke-width="1.0" stroke-linejoin="round" />
<ellipse cx="37.8" cy="-39.1" rx="6" ry="3.3" transform="rotate(-5 37.8 -39.1)" fill="#fff" stroke="#000" stroke-width="1.1" />
<ellipse cx="0" cy="0" rx="7.3" ry="8.6" transform="rotate(-22 0 0)" fill="#fff" stroke="#000" stroke-width="1.0" />
<path d="M-0.5,-1.5 L1,0 L-0.5,1.5" fill="none" stroke="#000" stroke-width="0.7" stroke-linejoin="round" />
</g>
<g transform="translate(698.8,585.1) rotate(-27.5)">
<rect x="0" y="-6.5" width="31" height="13" rx="0" fill="#fff" stroke="#000" stroke-width="1.0"/>
<path d="M2.5,-6.5 Q5.5,0 2.5,6.5" fill="none" stroke="#000" stroke-width="1.05"/>
<path d="M5,-6.5 Q8,0 5,6.5" fill="none" stroke="#000" stroke-width="1.05"/>
<path d="M7.5,-6.5 Q10.5,0 7.5,6.5" fill="none" stroke="#000" stroke-width="1.05"/>
<path d="M10,-6.5 Q13,0 10,6.5" fill="none" stroke="#000" stroke-width="1.05"/>
<path d="M12.5,-6.5 Q15.5,0 12.5,6.5" fill="none" stroke="#000" stroke-width="1.05"/>
<path d="M15,-6.5 Q18,0 15,6.5" fill="none" stroke="#000" stroke-width="1.05"/>
<path d="M17.5,-6.5 Q20.5,0 17.5,6.5" fill="none" stroke="#000" stroke-width="1.05"/>
<path d="M20,-6.5 Q23,0 20,6.5" fill="none" stroke="#000" stroke-width="1.05"/>
<path d="M22.5,-6.5 Q25.5,0 22.5,6.5" fill="none" stroke="#000" stroke-width="1.05"/>
<path d="M25,-6.5 Q28,0 25,6.5" fill="none" stroke="#000" stroke-width="1.05"/>
<path d="M27.5,-6.5 Q30.5,0 27.5,6.5" fill="none" stroke="#000" stroke-width="1.05"/>
<path d="M3.8,-6.5 Q2.5999999999999996,0 3.8,6.5" fill="none" stroke="#000" stroke-width="0.7"/>
<path d="M6.3,-6.5 Q5.1,0 6.3,6.5" fill="none" stroke="#000" stroke-width="0.7"/>
<path d="M8.8,-6.5 Q7.6000000000000005,0 8.8,6.5" fill="none" stroke="#000" stroke-width="0.7"/>
<path d="M11.3,-6.5 Q10.100000000000001,0 11.3,6.5" fill="none" stroke="#000" stroke-width="0.7"/>
<path d="M13.8,-6.5 Q12.600000000000001,0 13.8,6.5" fill="none" stroke="#000" stroke-width="0.7"/>
<path d="M16.3,-6.5 Q15.100000000000001,0 16.3,6.5" fill="none" stroke="#000" stroke-width="0.7"/>
<path d="M18.8,-6.5 Q17.6,0 18.8,6.5" fill="none" stroke="#000" stroke-width="0.7"/>
<path d="M21.3,-6.5 Q20.1,0 21.3,6.5" fill="none" stroke="#000" stroke-width="0.7"/>
<path d="M23.8,-6.5 Q22.6,0 23.8,6.5" fill="none" stroke="#000" stroke-width="0.7"/>
<path d="M26.3,-6.5 Q25.1,0 26.3,6.5" fill="none" stroke="#000" stroke-width="0.7"/>
<path d="M28.8,-6.5 Q27.6,0 28.8,6.5" fill="none" stroke="#000" stroke-width="0.7"/>
<ellipse cx="0.8" cy="0" rx="2.4" ry="6.5" fill="#fff" stroke="#000" stroke-width="1.1"/>
<rect x="30" y="-7.2" width="8" height="14.4" rx="1.5" fill="#fff" stroke="#000" stroke-width="1.0"/>
<path d="M32,-7.2 Q34,0 32,7.2" fill="none" stroke="#000" stroke-width="0.9"/>
<path d="M35,-7.2 Q37,0 35,7.2" fill="none" stroke="#000" stroke-width="0.9"/>
<rect x="38" y="-4.5" width="7" height="9" rx="0" fill="#fff" stroke="#000" stroke-width="1.0"/>
<rect x="44" y="-7" width="11" height="14" rx="2" fill="#fff" stroke="#000" stroke-width="1.0"/>
<path d="M46.5,-7 Q48.5,0 46.5,7" fill="none" stroke="#000" stroke-width="1.0"/>
<path d="M48.5,-7 Q50.5,0 48.5,7" fill="none" stroke="#000" stroke-width="1.0"/>
<path d="M50.5,-7 Q52.5,0 50.5,7" fill="none" stroke="#000" stroke-width="1.0"/>
<path d="M52.5,-7 Q54.5,0 52.5,7" fill="none" stroke="#000" stroke-width="1.0"/>
</g>
<g transform="translate(753.7,553.1) rotate(-30)">
<rect x="0" y="-6.5" width="27" height="13" rx="0" fill="#fff" stroke="#000" stroke-width="1.0"/>
<path d="M3,-6.5 Q6,0 3,6.5" fill="none" stroke="#000" stroke-width="1.05"/>
<path d="M5.5,-6.5 Q8.5,0 5.5,6.5" fill="none" stroke="#000" stroke-width="1.05"/>
<path d="M8,-6.5 Q11,0 8,6.5" fill="none" stroke="#000" stroke-width="1.05"/>
<path d="M10.5,-6.5 Q13.5,0 10.5,6.5" fill="none" stroke="#000" stroke-width="1.05"/>
<path d="M13,-6.5 Q16,0 13,6.5" fill="none" stroke="#000" stroke-width="1.05"/>
<path d="M15.5,-6.5 Q18.5,0 15.5,6.5" fill="none" stroke="#000" stroke-width="1.05"/>
<path d="M18,-6.5 Q21,0 18,6.5" fill="none" stroke="#000" stroke-width="1.05"/>
<path d="M20.5,-6.5 Q23.5,0 20.5,6.5" fill="none" stroke="#000" stroke-width="1.05"/>
<path d="M4.3,-6.5 Q3.0999999999999996,0 4.3,6.5" fill="none" stroke="#000" stroke-width="0.7"/>
<path d="M6.8,-6.5 Q5.6,0 6.8,6.5" fill="none" stroke="#000" stroke-width="0.7"/>
<path d="M9.3,-6.5 Q8.100000000000001,0 9.3,6.5" fill="none" stroke="#000" stroke-width="0.7"/>
<path d="M11.8,-6.5 Q10.600000000000001,0 11.8,6.5" fill="none" stroke="#000" stroke-width="0.7"/>
<path d="M14.3,-6.5 Q13.100000000000001,0 14.3,6.5" fill="none" stroke="#000" stroke-width="0.7"/>
<path d="M16.8,-6.5 Q15.600000000000001,0 16.8,6.5" fill="none" stroke="#000" stroke-width="0.7"/>
<path d="M19.3,-6.5 Q18.1,0 19.3,6.5" fill="none" stroke="#000" stroke-width="0.7"/>
<ellipse cx="0.8" cy="0" rx="2.6" ry="6.5" fill="#fff" stroke="#000" stroke-width="1.1"/>
<path d="M22,-6.8 Q24,0 22,6.8" fill="none" stroke="#000" stroke-width="1.1"/>
<path d="M24,-6.8 Q26,0 24,6.8" fill="none" stroke="#000" stroke-width="1.1"/>
<path d="M26,-6.8 Q28,0 26,6.8" fill="none" stroke="#000" stroke-width="1.1"/>
<rect x="27" y="-4" width="13" height="8" rx="0" fill="#fff" stroke="#000" stroke-width="1.0"/>
<rect x="38" y="-6" width="10" height="12" rx="2" fill="#fff" stroke="#000" stroke-width="1.0"/>
<path d="M40.5,-6 Q42.5,0 40.5,6" fill="none" stroke="#000" stroke-width="1.0"/>
<path d="M42.5,-6 Q44.5,0 42.5,6" fill="none" stroke="#000" stroke-width="1.0"/>
<path d="M44.5,-6 Q46.5,0 44.5,6" fill="none" stroke="#000" stroke-width="1.0"/>
</g>
<ellipse cx="567.5" cy="692.5" rx="5" ry="5.3" transform="rotate(-35 567.5 692.5)" fill="#fff" stroke="#000" stroke-width="1.1" />
<path d="M561,689 L563.5,695.5" fill="none" stroke="#000" stroke-width="0.9" stroke-linejoin="round" />
<ellipse cx="565.2" cy="690.6" rx="4.6" ry="5" transform="rotate(-35 565.2 690.6)" fill="#fff" stroke="#000" stroke-width="1.2" />
<ellipse cx="565.2" cy="690.6" rx="2.2" ry="2.6" transform="rotate(-35 565.2 690.6)" fill="none" stroke="#000" stroke-width="1" />
<ellipse cx="584.5" cy="679.7" rx="4.5" ry="6.2" transform="rotate(-25 584.5 679.7)" fill="#fff" stroke="#000" stroke-width="1.1" />
<ellipse cx="584.8" cy="679.5" rx="2.3" ry="3.8" transform="rotate(-25 584.8 679.5)" fill="#fff" stroke="#000" stroke-width="0.9" />
<ellipse cx="833.4" cy="506" rx="10.8" ry="15.8" transform="rotate(-20 833.4 506)" fill="none" stroke="#000" stroke-width="1.1" />
<ellipse cx="833.4" cy="506" rx="9.2" ry="14.2" transform="rotate(-20 833.4 506)" fill="none" stroke="#000" stroke-width="0.9" />
<ellipse cx="926" cy="452.4" rx="60.4" ry="87.6" transform="rotate(-30 926 452.4)" fill="#fff" stroke="#000" stroke-width="1.0" />
<ellipse cx="922.6" cy="454.5" rx="55" ry="86" transform="rotate(-31 922.6 454.5)" fill="none" stroke="#000" stroke-width="1.0" />
<ellipse cx="919.5" cy="456.2" rx="50.8" ry="83.5" transform="rotate(-31 919.5 456.2)" fill="none" stroke="#000" stroke-width="1.0" />
<ellipse cx="915.4" cy="459.5" rx="47.5" ry="78" transform="rotate(-31 915.4 459.5)" fill="#fff" stroke="#000" stroke-width="1.0" />
<path d="M967.5,410.5 Q973,407.5 979,409.5 Q987,414 989.5,423 Q991,432 985.5,439.5 Q982,441 980,439 Q976,430 967.5,410.5 Z" fill="#fff" stroke="#000" stroke-width="1.1" stroke-linejoin="round" />
<path d="M969.5,413.5 Q978,413 983.5,421 Q987,429 984.5,438" fill="none" stroke="#000" stroke-width="0.9" stroke-linejoin="round" />
<path d="M916,370.5 L918,373 L923,374.5 L925.5,373.7" fill="none" stroke="#000" stroke-width="0.9" stroke-linejoin="round" />
<path d="M962,405.6 L966,404.5 L968,414" fill="none" stroke="#000" stroke-width="0.9" stroke-linejoin="round" />
<path d="M993,479 L994.5,485 L993,490" fill="none" stroke="#000" stroke-width="0.9" stroke-linejoin="round" />
<ellipse cx="909.5" cy="464" rx="28.4" ry="47.4" transform="rotate(-29 909.5 464)" fill="#fff" stroke="#000" stroke-width="1.1" />
<ellipse cx="909.7" cy="463.8" rx="25.6" ry="44.4" transform="rotate(-29 909.7 463.8)" fill="none" stroke="#000" stroke-width="0.9" />
<path d="M888,462 Q889,449 900,446 Q911,444 917,451 Q922,455 926.8,454.9 Q931,458 929.3,464.8 Q925,471 919.4,472.2 Q918,482 911,482.5 Q902,483 896,476 Q892,474 889.6,474.7 Q884,471 888,462 Z" fill="#fff" stroke="#000" stroke-width="1" stroke-linejoin="round" />
<ellipse cx="907" cy="464.5" rx="8.86" ry="13.52" transform="rotate(-27 907 464.5)" fill="none" stroke="#000" stroke-width="1" />
<path d="M914.5,465 L922.5,459.5" fill="none" stroke="#000" stroke-width="5.4" stroke-linecap="butt" stroke-linejoin="round"/>
<path d="M914.5,465 L922.5,459.5" fill="none" stroke="#fff" stroke-width="3.6" stroke-linecap="butt" stroke-linejoin="round"/>
<ellipse cx="923" cy="459.3" rx="1.8" ry="2.3" transform="rotate(-27 923 459.3)" fill="#fff" stroke="#000" stroke-width="0.9" />
<path d="M879,471 L887,466.5 L890,474.5 L882,478 Z" fill="#fff" stroke="#000" stroke-width="0.9" stroke-linejoin="round" />
<ellipse cx="873.5" cy="466.3" rx="5.92" ry="11.74" transform="rotate(-27 873.5 466.3)" fill="#fff" stroke="#000" stroke-width="1" />
<path d="M877.5,457.3 Q883.5,464.3 879.5,475.3" fill="none" stroke="#000" stroke-width="0.8"/>
<ellipse cx="948.5" cy="459.8" rx="5.92" ry="11.74" transform="rotate(-27 948.5 459.8)" fill="#fff" stroke="#000" stroke-width="1" />
<path d="M952.5,450.8 Q958.5,457.8 954.5,468.8" fill="none" stroke="#000" stroke-width="0.8"/>
<ellipse cx="948.2" cy="509.4" rx="5.92" ry="11.74" transform="rotate(-27 948.2 509.4)" fill="#fff" stroke="#000" stroke-width="1" />
<path d="M952.2,500.4 Q958.2,507.4 954.2,518.4" fill="none" stroke="#000" stroke-width="0.8"/>
<ellipse cx="873.5" cy="415.7" rx="5.79" ry="11.99" transform="rotate(-27 873.5 415.7)" fill="#fff" stroke="#000" stroke-width="1" />
<path d="M858,404 Q857,413 859,418 Q863,425 870,423 L873.5,419" fill="none" stroke="#000" stroke-width="6.0" stroke-linecap="butt" stroke-linejoin="round"/>
<path d="M858,404 Q857,413 859,418 Q863,425 870,423 L873.5,419" fill="none" stroke="#fff" stroke-width="4.2" stroke-linecap="butt" stroke-linejoin="round"/>
<path d="M854.7,404 L860,401.5 L862,406 L856.5,408.5 Z" fill="#fff" stroke="#000" stroke-width="0.9" stroke-linejoin="round" />
<path d="M984.7,409.1 L999.6,402.4 L1008,406.6 L1008.4,413.3 L999.6,421.1 L998.8,423.2 L992.5,425.4 L984.5,422Z" fill="#fff" stroke="#000" stroke-width="1.0" stroke-linejoin="round" />
<path d="M984.7,409.1 L992.5,413.3 L1008,406.6" fill="none" stroke="#000" stroke-width="1.0" />
<path d="M992.5,413.3 L992.5,425.4" fill="none" stroke="#000" stroke-width="1.0" />
<path d="M999.6,407 L999.6,421.1" fill="none" stroke="#000" stroke-width="1.2" />
<ellipse cx="1004.5" cy="413" rx="2.3" ry="2.6" transform="rotate(-20 1004.5 413)" fill="#fff" stroke="#000" stroke-width="1" />
<ellipse cx="987" cy="418.5" rx="2.2" ry="3.2" transform="rotate(-20 987 418.5)" fill="#fff" stroke="#000" stroke-width="1" />
<path d="M987.5,402.7 L991.8,404.1" fill="none" stroke="#000" stroke-width="0.9" stroke-linejoin="round" />
<path d="M1057,378 Q1058,374 1062.5,374.5 L1064,375 Q1068.5,377 1068,383 Q1067,387.5 1062,387 L1061,386.5 Q1056.5,385 1057,378 Z" fill="#fff" stroke="#000" stroke-width="1.1" stroke-linejoin="round" />
<ellipse cx="1061" cy="381" rx="4.3" ry="5.6" transform="rotate(-15 1061 381)" fill="#fff" stroke="#000" stroke-width="1.1" />
<ellipse cx="1060.8" cy="381" rx="1.9" ry="2.5" transform="rotate(-15 1060.8 381)" fill="#fff" stroke="#000" stroke-width="1" />
<path d="M1018.5,425 Q1018,420.5 1022,420.5 L1025,422.5 Q1030,419 1032,421.5 Q1033,426 1027,427 Q1023,428 1019,427 Z" fill="#fff" stroke="#000" stroke-width="1.1" stroke-linejoin="round" />
<path d="M1017.7,430.5 L1026,425.5" fill="none" stroke="#000" stroke-width="1.2" />
<path d="M1068,332.5 L1103.5,351.5 Q1107.5,354 1107.5,358 L1107.5,387 Q1107.5,391 1103.5,390 L1068,371.5 Q1065,369.5 1065,365.5 L1065,336 Q1065,332 1068,332.5 Z" fill="#fff" stroke="#000" stroke-width="1.1" stroke-linejoin="round" />
<ellipse cx="1086" cy="361.5" rx="12" ry="16.3" transform="rotate(-18 1086 361.5)" fill="none" stroke="#000" stroke-width="1.1" />
<ellipse cx="1070" cy="338" rx="1.5" ry="1.9" transform="rotate(0 1070 338)" fill="none" stroke="#000" stroke-width="0.9" />
<ellipse cx="1102.3" cy="356.5" rx="1.5" ry="1.9" transform="rotate(0 1102.3 356.5)" fill="none" stroke="#000" stroke-width="0.9" />
<ellipse cx="1070" cy="366.3" rx="1.5" ry="1.9" transform="rotate(0 1070 366.3)" fill="none" stroke="#000" stroke-width="0.9" />
<ellipse cx="1102.3" cy="384.5" rx="1.5" ry="1.9" transform="rotate(0 1102.3 384.5)" fill="none" stroke="#000" stroke-width="0.9" />
<path d="M937,314 L946.5,319" fill="none" stroke="#000" stroke-width="6.4" stroke-linecap="butt" stroke-linejoin="round"/>
<path d="M937,314 L946.5,319" fill="none" stroke="#fff" stroke-width="4.4" stroke-linecap="butt" stroke-linejoin="round"/>
<ellipse cx="947" cy="319.3" rx="1.7" ry="2.5" transform="rotate(-30 947 319.3)" fill="#fff" stroke="#000" stroke-width="1" />
<ellipse cx="935" cy="313.5" rx="3.2" ry="5" transform="rotate(-25 935 313.5)" fill="#fff" stroke="#000" stroke-width="1.3" />
<ellipse cx="936.5" cy="314.3" rx="1.6" ry="3" transform="rotate(-25 936.5 314.3)" fill="none" stroke="#000" stroke-width="0.8" />
<path d="M971,339.5 Q970,335 974.5,333.5 L977,331.5 Q980,332 979,336 Q977.5,340.5 973,341 Z" fill="#fff" stroke="#000" stroke-width="1.2" stroke-linejoin="round" />
<path d="M973.5,336 Q975.5,335 976.5,337" fill="none" stroke="#000" stroke-width="0.9" stroke-linejoin="round" />
<ellipse cx="1011" cy="356.5" rx="3.2" ry="4.6" transform="rotate(20 1011 356.5)" fill="#fff" stroke="#000" stroke-width="1.1" />
<ellipse cx="1012" cy="356" rx="1.6" ry="2.6" transform="rotate(20 1012 356)" fill="none" stroke="#000" stroke-width="0.8" />
<path d="M1054.8,616.5 L1054.8,631 Q1057.2,634 1059.7,631 L1059.7,616.5 Z" fill="#fff" stroke="#000" stroke-width="1" stroke-linejoin="round" />
<path d="M1055.2,620 L1059.3,620 M1055.2,623 L1059.3,623 M1055.2,626 L1059.3,626" fill="none" stroke="#000" stroke-width="0.45" stroke-linejoin="round" />
<path d="M1052.5,612.8 L1054,610.3 L1060.5,610.3 L1062,612.8 L1062,615 L1060.5,617 L1054,617 L1052.5,615 Z" fill="#fff" stroke="#000" stroke-width="1" stroke-linejoin="round" />
<path d="M1052.8,613 L1061.8,613" fill="none" stroke="#000" stroke-width="0.8" />
<path d="M1057.2,613 L1057.2,617" fill="none" stroke="#000" stroke-width="0.8" />
<path d="M796.6,529.9 L907,466" fill="none" stroke="#000" stroke-width="0.95" stroke-dasharray="8,1.6,1.6,1.6" />
<path d="M212.4,290 L266,318.8 L288.8,307.5 L329,330.2" fill="none" stroke="#000" stroke-width="0.95" stroke-dasharray="8,1.6,1.6,1.6" />
<path d="M241.5,335.5 L254.7,352.9 L248.5,357 L264,378.5" fill="none" stroke="#000" stroke-width="0.95" stroke-dasharray="8,1.6,1.6,1.6" />
<path d="M275.7,478 L288.1,487.3 L339.7,427.4 L354.2,438.8" fill="none" stroke="#000" stroke-width="0.95" stroke-dasharray="8,1.6,1.6,1.6" />
<path d="M360.6,230.6 L406.4,256 L382.7,269.3 L406.4,282.7" fill="none" stroke="#000" stroke-width="0.95" stroke-dasharray="8,1.6,1.6,1.6" />
<path d="M424,198.6 L434.4,207.7 L442.2,216.1 L437,222 L480.4,262.8" fill="none" stroke="#000" stroke-width="0.95" stroke-dasharray="8,1.6,1.6,1.6" />
<path d="M408.4,212.2 L475.2,278.4" fill="none" stroke="#000" stroke-width="0.95" stroke-dasharray="8,1.6,1.6,1.6" />
<path d="M610.8,156.8 L584.8,171.7 L623.2,248.4 L628,248" fill="none" stroke="#000" stroke-width="0.95" stroke-dasharray="8,1.6,1.6,1.6" />
<path d="M693.8,170.4 L696.3,187.8 L722.3,184 L724.8,201.4" fill="none" stroke="#000" stroke-width="0.95" stroke-dasharray="8,1.6,1.6,1.6" />
<path d="M589.4,678.4 L662.7,634.5 L644,623.5" fill="none" stroke="#000" stroke-width="0.95" stroke-dasharray="8,1.6,1.6,1.6" />
<path d="M1014,358.8 L1038.7,372.7 L987.5,402 L989,404" fill="none" stroke="#000" stroke-width="0.95" stroke-dasharray="8,1.6,1.6,1.6" />
<path d="M1057.4,384.1 L1009,410.1" fill="none" stroke="#000" stroke-width="0.95" stroke-dasharray="8,1.6,1.6,1.6" />
<path d="M1006,409 L1018,421" fill="none" stroke="#000" stroke-width="0.95" stroke-dasharray="8,1.6,1.6,1.6" />
</g></svg></body></html>
